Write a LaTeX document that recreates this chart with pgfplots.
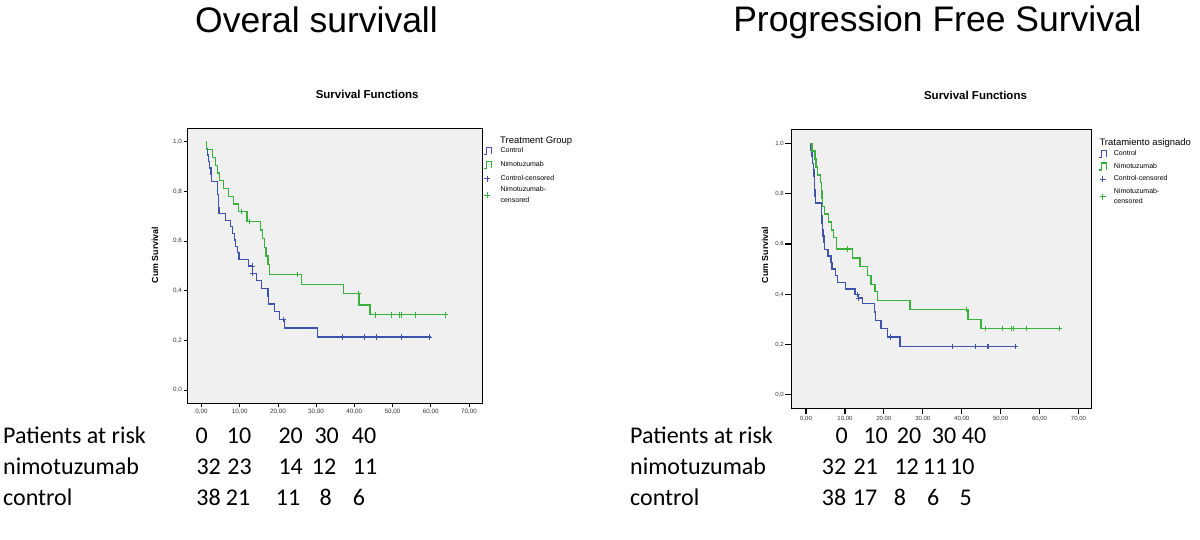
\documentclass[border=0pt]{standalone}
\usepackage{pgfplots}
\pgfplotsset{compat=1.18}
\usepackage{fontspec}
\setmainfont{Liberation Sans}
\newfontfamily\calibri{Carlito}
\definecolor{spssblue}{RGB}{62,84,170}
\definecolor{spssgreen}{RGB}{56,178,60}
\definecolor{plotbg}{RGB}{240,240,240}

\pgfplotsset{
  km/.style={
    scale only axis,
    axis background/.style={fill=plotbg},
    axis line style={black, line width=0.9pt},
    tick align=outside,
    tick pos=left,
    tick style={black, line width=0.8pt},
    xmin=-3.6, xmax=73.4, ymin=-0.052, ymax=1.056,
    xtick={0,10,20,30,40,50,60,70},
    xticklabels={{0,00},{10,00},{20,00},{30,00},{40,00},{50,00},{60,00},{70,00}},
    ytick={0,0.2,0.4,0.6,0.8,1.0},
    yticklabels={{0,0},{0,2},{0,4},{0,6},{0,8},{1,0}},
    ylabel={Cum Survival},
    ylabel style={font=\bfseries\fontsize{8.8}{10}\selectfont, anchor=center},
    ticklabel style={text=black!80},
    legend cell align=left,
    legend style={draw=none, fill=none, font=\fontsize{7}{8.5}\selectfont, row sep=2pt,
      inner sep=1pt},
  },
  stepimg/.style={legend image code/.code={\draw[##1] (0pt,-3.5pt) -- (2.5pt,-3.5pt) -- (2.5pt,3.5pt) -- (7.5pt,3.5pt) -- (7.5pt,-3.5pt);}},
  censimg/.style={legend image code/.code={\draw[##1, only marks] plot coordinates {(3.8pt,0pt)};}},
  censimglowL/.style={legend image code/.code={\draw[##1, only marks] plot coordinates {(3.8pt,-2.5pt)};}},
  censimglowR/.style={legend image code/.code={\draw[##1, only marks] plot coordinates {(3.8pt,-5pt)};}},
}

\begin{document}
\begin{tikzpicture}[x=1pt,y=1pt]
\useasboundingbox (0,0) rectangle (1200,540);

% Titles
\node[font=\fontsize{35.5}{40}\selectfont, anchor=base] at (316.5,507.6) {Overal survivall};
\node[font=\fontsize{35.5}{40}\selectfont, anchor=base] at (937.5,508.3) {Progression Free Survival};
\node[font=\bfseries\fontsize{11.5}{13}\selectfont, anchor=base] at (367.2,441.9) {Survival Functions};
\node[font=\bfseries\fontsize{11.5}{13}\selectfont, anchor=base] at (975.5,440.2) {Survival Functions};

% ---------- Overall survival ----------
\begin{axis}[km,
  at={(187.7pt,137pt)}, anchor=south west,
  width=294.3pt, height=275pt,
  major tick length=4pt,
  ticklabel style={font=\fontsize{6.3}{7}\selectfont},
  xticklabel style={inner sep=2pt},
  yticklabel style={inner sep=1.5pt},
  ylabel style={at={(axis description cs:-0.111,0.538)}},
  legend style={at={(1.0,0.941)}, anchor=north west, row sep=3.5pt},
]
\addlegendimage{stepimg, spssblue, line width=0.9pt}
\addlegendentry{\hspace*{7pt}Control}
\addlegendimage{stepimg, spssgreen, line width=0.9pt}
\addlegendentry{\hspace*{7pt}Nimotuzumab}
\addlegendimage{censimg, spssblue, mark=+, mark size=3pt, line width=0.8pt}
\addlegendentry{\hspace*{7pt}Control-censored}
\addlegendimage{censimglowL, spssgreen, mark=+, mark size=3pt, line width=0.8pt}
\addlegendentry{\hspace*{7pt}\raisebox{3pt}[5pt][\depth]{\fontsize{7}{10.5}\selectfont\begin{tabular}[t]{@{}l@{}}Nimotuzumab-\\censored\end{tabular}}}

% Control
\addplot[const plot, spssblue, line width=1.2pt, forget plot] coordinates {
(1.3,1.0)(1.4,0.974)(1.6,0.947)(1.9,0.921)(2.2,0.895)(2.5,0.868)(2.7,0.842)
(4.1,0.816)(4.2,0.789)(4.4,0.763)(4.5,0.737)(4.6,0.711)(6.3,0.684)(7.7,0.658)
(8.2,0.632)(8.6,0.605)(9.0,0.579)(9.4,0.553)(9.8,0.526)(12.4,0.50)(13.4,0.47)
(14.3,0.44)(15.7,0.41)(17.4,0.378)(17.5,0.347)(19.1,0.316)(20.4,0.285)(21.7,0.25)
(30.3,0.214)(60.0,0.214)};
\addplot[only marks, mark=+, mark size=2.7pt, spssblue, line width=0.8pt, forget plot] coordinates {
(13.2,0.50)(13.4,0.47)(21.5,0.285)(36.8,0.214)(42.7,0.214)(45.8,0.214)(52.4,0.214)(59.7,0.214)};
% Nimotuzumab
\addplot[const plot, spssgreen, line width=1.2pt, forget plot] coordinates {
(1.3,1.0)(1.4,0.969)(2.9,0.938)(3.7,0.906)(4.1,0.875)(4.8,0.844)(5.7,0.813)
(7.0,0.781)(8.4,0.75)(9.7,0.719)(11.9,0.68)(15.5,0.645)(16.0,0.61)(16.4,0.575)
(16.9,0.54)(17.4,0.505)(17.9,0.465)(26.1,0.424)(37.1,0.388)(41.2,0.343)(44.1,0.303)
(64.1,0.303)};
\addplot[only marks, mark=+, mark size=2.7pt, spssgreen, line width=0.8pt, forget plot] coordinates {
(10.4,0.719)(12.6,0.68)(25.2,0.465)(41.1,0.388)(45.5,0.303)(49.8,0.303)(51.9,0.303)
(52.4,0.303)(55.9,0.303)(63.7,0.303)};
\end{axis}
\node[font=\fontsize{9.5}{10}\selectfont, anchor=base west, inner sep=0pt] at (500,396.6) {Treatment Group};

% ---------- Progression free survival ----------
\begin{axis}[km,
  at={(791pt,132pt)}, anchor=south west,
  width=300.7pt, height=278.7pt,
  xmin=-3.86,
  major tick length=6pt,
  tick style={black, line width=1.1pt},
  ticklabel style={font=\fontsize{6}{7}\selectfont},
  xticklabel style={inner sep=2.5pt},
  yticklabel style={inner sep=1pt},
  ylabel style={at={(axis description cs:-0.0865,0.549)}},
  legend style={at={(1.018,0.935)}, anchor=north west},
]
\addlegendimage{stepimg, spssblue, line width=1.1pt}
\addlegendentry{\hspace*{5pt}Control}
\addlegendimage{stepimg, spssgreen, line width=1.1pt}
\addlegendentry{\hspace*{5pt}Nimotuzumab}
\addlegendimage{censimg, spssblue, mark=+, mark size=3pt, line width=1pt}
\addlegendentry{\hspace*{5pt}Control-censored}
\addlegendimage{censimglowR, spssgreen, mark=+, mark size=3pt, line width=1pt}
\addlegendentry{\hspace*{5pt}\raisebox{0pt}[5pt][\depth]{\fontsize{7}{10}\selectfont\begin{tabular}[t]{@{}l@{}}Nimotuzumab-\\censored\end{tabular}}}

% Control
\addplot[const plot, spssblue, line width=1.4pt, forget plot] coordinates {
(1.2,1.0)(1.3,0.974)(1.5,0.947)(1.7,0.921)(1.9,0.895)(2.0,0.868)(2.1,0.842)
(2.2,0.816)(2.3,0.789)(2.4,0.763)(3.9,0.737)(4.0,0.711)(4.1,0.684)(4.2,0.658)
(4.4,0.632)(4.6,0.605)(4.8,0.579)(5.6,0.553)(6.4,0.526)(6.7,0.50)(7.6,0.474)
(8.1,0.447)(10.2,0.421)(12.6,0.40)(13.5,0.385)(14.5,0.363)(17.6,0.33)(17.8,0.297)
(19.3,0.264)(20.9,0.231)(24.1,0.193)(53.7,0.193)};
\addplot[only marks, mark=+, mark size=2.7pt, spssblue, line width=1pt, forget plot] coordinates {
(13.3,0.40)(13.6,0.385)(21.7,0.231)(37.6,0.193)(43.5,0.193)(46.7,0.193)(46.9,0.193)(53.7,0.193)};
% Nimotuzumab
\addplot[const plot, spssgreen, line width=1.4pt, forget plot] coordinates {
(1.3,1.0)(1.5,0.969)(2.3,0.938)(2.6,0.906)(3.0,0.875)(3.7,0.844)(3.9,0.813)
(4.1,0.781)(4.3,0.75)(4.8,0.719)(5.8,0.688)(6.5,0.656)(7.0,0.625)(7.8,0.58)
(11.9,0.545)(13.9,0.51)(15.8,0.475)(16.7,0.44)(17.7,0.41)(18.3,0.376)(26.7,0.34)
(41.6,0.30)(45.0,0.264)(65.2,0.264)};
\addplot[only marks, mark=+, mark size=2.7pt, spssgreen, line width=1pt, forget plot] coordinates {
(10.6,0.58)(41.3,0.34)(46.1,0.264)(50.6,0.264)(52.8,0.264)(53.2,0.264)(56.7,0.264)(65.0,0.264)};
\end{axis}
\node[font=\fontsize{9.5}{10}\selectfont, anchor=base west, inner sep=0pt] at (1099.3,394.9) {Tratamiento asignado};

% ---------- Patients at risk tables ----------
\begin{scope}[every node/.style={font=\calibri\fontsize{24}{28}\selectfont, inner sep=0pt}]
\node[anchor=base west] at (3,96) {Patients at risk};
\node[anchor=base west] at (3,65) {nimotuzumab};
\node[anchor=base west] at (3,34) {control};
\node[anchor=base] at (201.7,96) {0};
\node[anchor=base] at (239,96) {10};
\node[anchor=base] at (290.7,96) {20};
\node[anchor=base] at (326.7,96) {30};
\node[anchor=base] at (364,96) {40};
\node[anchor=base] at (208.7,65) {32};
\node[anchor=base] at (239.5,65) {23};
\node[anchor=base] at (290.7,65) {14};
\node[anchor=base] at (324,65) {12};
\node[anchor=base] at (365,65) {11};
\node[anchor=base] at (208.5,34) {38};
\node[anchor=base] at (238,34) {21};
\node[anchor=base] at (288,34) {11};
\node[anchor=base] at (325.7,34) {8};
\node[anchor=base] at (359,34) {6};

\node[anchor=base west] at (630,96) {Patients at risk};
\node[anchor=base west] at (630,65) {nimotuzumab};
\node[anchor=base west] at (630,34) {control};
\node[anchor=base] at (841.7,96) {0};
\node[anchor=base] at (875.7,96) {10};
\node[anchor=base] at (909,96) {20};
\node[anchor=base] at (944,96) {30};
\node[anchor=base] at (974,96) {40};
\node[anchor=base] at (834,65) {32};
\node[anchor=base] at (865.7,65) {21};
\node[anchor=base] at (906.7,65) {12};
\node[anchor=base] at (935,65) {11};
\node[anchor=base] at (962.3,65) {10};
\node[anchor=base] at (834,34) {38};
\node[anchor=base] at (865,34) {17};
\node[anchor=base] at (900,34) {8};
\node[anchor=base] at (933.3,34) {6};
\node[anchor=base] at (965.7,34) {5};
\end{scope}
\end{tikzpicture}
\end{document}
